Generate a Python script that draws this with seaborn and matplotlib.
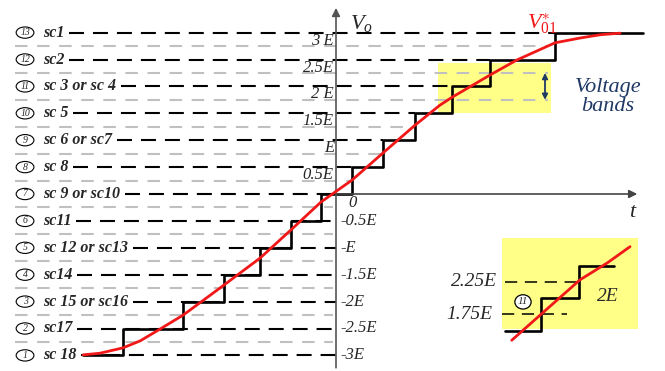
import matplotlib
matplotlib.use("Agg")
import matplotlib.pyplot as plt
from matplotlib.patches import Ellipse, Rectangle
import pandas as pd
import seaborn as sns

# Output voltage levels (units of E), their axis labels and switching combinations
levels = [-3.0, -2.5, -2.0, -1.5, -1.0, -0.5, 0.0, 0.5, 1.0, 1.5, 2.0, 2.5, 3.0]
level_names = ["-3E", "-2.5E", "-2E", "-1.5E", "-E", "-0.5E", "0",
               "0.5E", "E", "1.5E", "2 E", "2.5E", "3 E"]
level_ids = [1, 2, 3, 4, 5, 6, 7, 8, 9, 10, 11, 12, 13]
combos = ["sc 18", "sc17", "sc 15 or sc16", "sc14", "sc 12 or sc13", "sc11",
          "sc 9 or sc10", "sc 8", "sc 6 or sc7", "sc 5", "sc 3 or sc 4", "sc2", "sc1"]

# Switching instants of the staircase output (arbitrary time units)
switch_t = [-4.70, -3.96, -2.84, -2.08, -1.41, -0.84, -0.28,
            0.30, 0.87, 1.47, 2.16, 2.86, 4.07, 5.71]

# Reference waveform V01*
ref_t = [-4.70, -4.39, -3.96, -3.64, -3.27, -2.84, -2.16, -1.41, -0.84, -0.28,
         0.30, 0.87, 1.47, 1.93, 2.16, 2.86, 3.36, 4.07, 4.54, 4.91, 5.28]
ref_v = [-2.99, -2.96, -2.86, -2.73, -2.51, -2.25, -1.75, -1.19, -0.67, -0.15,
         0.26, 0.76, 1.28, 1.65, 1.80, 2.21, 2.49, 2.81, 2.90, 2.96, 2.99]

# Close-up of band 11 (level 2E)
zoom_levels = [1.5, 2.0, 2.5]
zoom_switch_t = [0.05, 0.60, 1.18, 1.72]
zoom_ref_t = [0.15, 0.59, 1.20, 1.62, 1.97]
zoom_ref_v = [1.35, 1.74, 2.28, 2.54, 2.79]
zoom_bands = [1.75, 2.25]
zoom_band_names = ["1.75E", "2.25E"]

sns.set_theme(style="white")
plt.rcParams["font.family"] = ["Liberation Serif", "DejaVu Serif"]
plt.rcParams["mathtext.fontset"] = "custom"
plt.rcParams["mathtext.it"] = "Liberation Serif:italic"
plt.rcParams["mathtext.rm"] = "Liberation Serif"

W, H = 665, 371
PX = 53.8          # pixels per unit on both axes
X0, Y0 = 336, 194  # pixel position of the origin

fig = plt.figure(figsize=(W / 100, H / 100), dpi=100)
ax = fig.add_axes([0, 0, 1, 1])
ax.set_xlim(-X0 / PX, (W - X0) / PX)
ax.set_ylim((Y0 - H) / PX, Y0 / PX)
ax.axis("off")

navy = "#1F3864"
yellow = "#FFFF88"
gray = "#C0C0C0"
red = "#F01818"
black_dash = (0, (7.2, 4.3))
gray_dash = (0, (6.0, 4.6))

# Voltage band highlight
ax.add_patch(Rectangle((1.896, 1.506), 2.10, 0.929, facecolor=yellow,
                       edgecolor="none", zorder=0.5))

# Left-hand labels: circled level number and switching combination
label_texts = []
for v, idx, name in zip(levels, level_ids, combos):
    ax.add_patch(Ellipse((-5.78, v), 0.33, 0.21, facecolor="white",
                         edgecolor="black", lw=0.8, zorder=5))
    ax.text(-5.78, v, str(idx), ha="center", va="center", fontsize=7,
            style="italic", zorder=6)
    label_texts.append(ax.text(-5.45, v, name, ha="left", va="center",
                               fontsize=11.5, style="italic", weight="bold",
                               zorder=6))

fig.canvas.draw()
renderer = fig.canvas.get_renderer()
inv = ax.transData.inverted()

# Gray band-boundary lines halfway between levels
mids = [(a + b) / 2 for a, b in zip(levels[:-1], levels[1:])]
for k, m in enumerate(mids):
    if m < 0:
        end = -0.05
    elif m > 1.5:
        end = 3.94
    else:
        end = switch_t[k + 1]
    ax.plot([-5.97, end], [m, m], color=gray, lw=1.5, ls=gray_dash, zorder=1)

# Black dashed level lines starting after each label
for i, (v, t) in enumerate(zip(levels, label_texts)):
    bb = t.get_window_extent(renderer)
    start = inv.transform((bb.x1 + 5, 0))[0]
    end = switch_t[i] if v > 0 else 0.0
    ax.plot([start, end], [v, v], color="black", lw=1.5, ls=black_dash, zorder=2)

# Staircase output voltage
stairs = pd.DataFrame({"t": switch_t, "v": levels + [levels[-1]]})
sns.lineplot(data=stairs, x="t", y="v", drawstyle="steps-post", estimator=None,
             sort=False, color="black", lw=1.9, ax=ax, zorder=3)

# Reference waveform
ref = pd.DataFrame({"t": ref_t, "v": ref_v})
sns.lineplot(data=ref, x="t", y="v", estimator=None, sort=False, color=red,
             lw=2.0, ax=ax, zorder=4)
ax.set_xlabel("")
ax.set_ylabel("")

# Axes with arrows
ax.annotate("", xy=(0, 3.46), xytext=(0, -3.23),
            arrowprops=dict(arrowstyle="-|>", color="#555555", lw=1.2,
                            mutation_scale=12, shrinkA=0, shrinkB=0), zorder=3)
ax.annotate("", xy=(5.60, 0), xytext=(0, 0),
            arrowprops=dict(arrowstyle="-|>", color="#444444", lw=1.2,
                            mutation_scale=12, shrinkA=0, shrinkB=0), zorder=3)

# Level tick labels
for v, name in zip(levels, level_names):
    if v > 0:
        ax.text(-0.04, v - 0.15, name, ha="right", va="center", fontsize=12,
                style="italic", zorder=6)
    elif v < 0:
        ax.text(0.09, v, name, ha="left", va="center", fontsize=12,
                style="italic", zorder=6)
    else:
        ax.text(0.316, -0.17, name, ha="center", va="center", fontsize=12,
                style="italic", zorder=6)

ax.text(0.26, 3.16, r"$V_o$", ha="left", va="center", fontsize=16, zorder=6)
ax.text(3.55, 3.16, r"$V_{01}^{\ast}$", ha="left", va="center", fontsize=16,
        color=red, zorder=6)
ax.text(5.52, -0.35, r"$t$", ha="center", va="center", fontsize=16, zorder=6)

# Voltage band arrow and caption
ax.annotate("", xy=(3.885, 2.25), xytext=(3.885, 1.75),
            arrowprops=dict(arrowstyle="<|-|>", color=navy, lw=1.3,
                            mutation_scale=8, shrinkA=0, shrinkB=0), zorder=6)
ax.text(5.056, 1.98, "Voltage", ha="center", va="center", fontsize=16,
        style="italic", color=navy)
ax.text(5.056, 1.62, "bands", ha="center", va="center", fontsize=16,
        style="italic", color=navy)

# Close-up of one voltage band
ins = fig.add_axes([502 / W, 1 - 329 / H, 136 / W, 91 / H])
ins.set_xlim(0, 136 / 65)
ins.set_ylim(2 - 31 / 65, 2 + 60 / 65)
ins.axis("off")
ins.add_patch(Rectangle((0, 0), 1, 1, transform=ins.transAxes,
                        facecolor=yellow, edgecolor="none", zorder=0))
band_starts = [0.0, zoom_switch_t[0]]
band_ends = [1.0, zoom_switch_t[2]]
for b, s, e in zip(zoom_bands, band_starts, band_ends):
    ins.plot([s, e], [b, b], color="black", lw=1.1, ls=(0, (8, 5)),
             clip_on=False, zorder=2)
ins.text(-0.077, 2.25, zoom_band_names[1], ha="right", va="center",
         fontsize=14, style="italic")
ins.text(-0.154, 1.75, zoom_band_names[0], ha="right", va="center",
         fontsize=14, style="italic")
zstairs = pd.DataFrame({"t": zoom_switch_t, "v": zoom_levels + [zoom_levels[-1]]})
sns.lineplot(data=zstairs, x="t", y="v", drawstyle="steps-post", estimator=None,
             sort=False, color="black", lw=1.9, ax=ins, zorder=3, clip_on=False)
zref = pd.DataFrame({"t": zoom_ref_t, "v": zoom_ref_v})
sns.lineplot(data=zref, x="t", y="v", estimator=None, sort=False, color=red,
             lw=2.0, ax=ins, zorder=4, clip_on=False)
ins.add_patch(Ellipse((0.323, 1.94), 0.25, 0.22, facecolor="white",
                      edgecolor="black", lw=0.9, zorder=5))
ins.text(0.323, 1.94, "11", ha="center", va="center", fontsize=8,
         style="italic", zorder=6)
ins.text(1.63, 2.03, "2E", ha="center", va="center", fontsize=14,
         style="italic")

fig.savefig("out.png", dpi=100)
